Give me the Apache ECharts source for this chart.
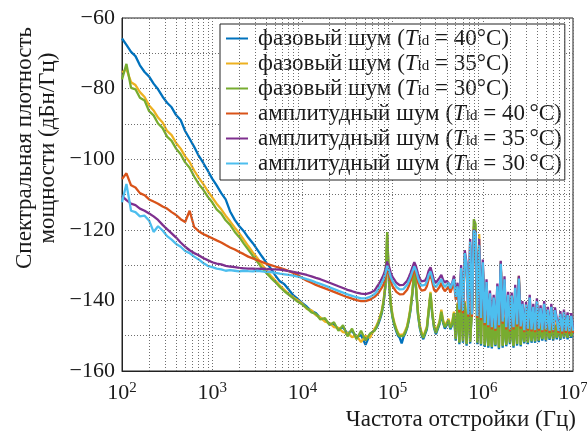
<!DOCTYPE html>
<html>
<head>
<meta charset="utf-8">
<script src="https://cdn.jsdelivr.net/npm/echarts@6/dist/echarts.min.js"></script>
<style>
html,body{margin:0;padding:0;background:#fff;}
#chart{width:587px;height:432px;}
</style>
</head>
<body>
<div id="chart"></div>
<script>
// частота отстройки, Гц
var freq = [100,112,126,141,158,178,200,224,251,282,
	316,355,398,447,501,562,631,708,794,891,
	1000,1120,1260,1410,1580,1780,2000,2240,2510,2820,
	3160,3550,3980,4470,5010,5620,6310,7080,7940,8910,
	1e4,1.12e4,1.26e4,1.41e4,1.58e4,1.78e4,2e4,2.24e4,2.51e4,2.82e4,
	3.16e4,3.55e4,3.98e4,4.47e4,5.01e4,5.62e4,6.31e4,
	6.61e4,6.92e4,7.24e4,7.59e4,7.94e4,8.32e4,8.71e4,9.12e4,9.55e4,1e5,
	1.05e5,1.10e5,1.15e5,1.20e5,1.26e5,1.32e5,1.38e5,1.45e5,1.51e5,1.58e5,
	1.66e5,1.74e5,1.82e5,1.91e5,2.00e5,2.09e5,2.19e5,2.29e5,2.40e5,2.51e5,
	2.63e5,2.75e5,2.88e5,3.02e5,3.16e5,3.31e5,3.47e5,3.63e5,3.80e5,3.98e5,
	4.17e5,4.37e5,4.57e5,4.79e5,5.01e5,5.25e5,5.50e5,5.75e5,6.03e5,6.31e5,
	6.61e5,6.92e5,7.24e5,7.59e5,7.94e5,8.32e5,8.71e5,9.12e5,9.55e5,1e6,
	1.05e6,1.10e6,1.15e6,1.20e6,1.26e6,1.32e6,1.38e6,1.45e6,1.51e6,1.58e6,
	1.66e6,1.74e6,1.82e6,1.91e6,2.00e6,2.09e6,2.19e6,2.29e6,2.40e6,2.51e6,
	2.63e6,2.75e6,2.88e6,3.02e6,3.16e6,3.31e6,3.47e6,3.63e6,3.80e6,3.98e6,
	4.17e6,4.37e6,4.57e6,4.79e6,5.01e6,5.25e6,5.50e6,5.75e6,6.03e6,6.31e6,
	6.61e6,6.92e6,7.24e6,7.59e6,7.94e6,8.32e6,8.71e6,9.12e6,9.55e6,1e7];

// фазовый шум, 40°C
var phase40 = [-65.8,-67.6,-69.6,-70.8,-73.4,-75.3,-76.6,-78.6,-80.2,-82.3,
	-84.0,-85.3,-87.5,-88.9,-92.0,-94.2,-96.5,-99.0,-101.0,-103.2,
	-105.5,-107.4,-109.6,-111.4,-114.8,-117.2,-119.0,-120.4,-122.2,-123.8,
	-125.6,-127.5,-129.3,-131.0,-132.9,-134.6,-135.4,-137.0,-138.6,-139.6,
	-140.8,-141.8,-143.0,-143.6,-145.0,-145.6,-146.6,-146.8,-148.2,-147.6,
	-149.4,-148.6,-150.4,-149.8,-152.6,-149.6,-148.4,
	-147.8,-146.8,-145.4,-143.6,-140.8,-136.2,-121.6,-135.0,-141.6,-145.0,
	-147.2,-148.8,-150.0,-150.6,-152.2,-150.4,-149.4,-147.8,-145.8,-142.8,
	-138.0,-131.6,-136.8,-144.0,-147.8,-149.8,-151.0,-150.6,-148.2,-143.4,
	-138.4,-144.0,-147.8,-149.6,-149.2,-146.8,-143.8,-146.4,-148.0,-147.6,
	-146.0,-148.2,-147.0,-144.0,-151.4,-141.4,-152.4,-140.0,-152.0,-141.0,
	-152.8,-139.4,-152.2,-142.4,-120.0,-121.0,-152.4,-140.6,-152.8,-131.6,
	-153.2,-144.8,-153.4,-146.0,-153.6,-146.2,-153.0,-144.4,-153.8,-130.0,
	-153.4,-145.4,-153.0,-146.8,-152.4,-146.4,-153.4,-145.0,-152.8,-134.2,
	-153.0,-147.0,-152.2,-146.4,-152.4,-146.0,-152.0,-147.2,-152.0,-146.4,
	-151.8,-147.2,-151.4,-146.6,-151.6,-147.4,-151.2,-147.0,-151.4,-147.4,
	-151.0,-147.6,-151.2,-147.4,-150.8,-147.8,-151.0,-147.6,-150.6,-148.0];

// фазовый шум, 35°C
var phase35 = [-75.4,-74.5,-78.2,-79.0,-81.0,-82.4,-84.8,-86.2,-88.2,-89.6,
	-92.0,-93.2,-95.4,-97.0,-99.2,-100.8,-103.2,-105.2,-107.0,-109.0,
	-110.8,-112.6,-114.2,-116.0,-117.6,-119.4,-121.0,-122.8,-124.6,-126.4,
	-128.0,-129.8,-131.4,-133.0,-134.4,-135.8,-137.0,-138.2,-139.2,-140.0,
	-141.0,-142.4,-142.8,-144.2,-144.8,-146.0,-146.4,-147.6,-147.8,-149.0,
	-149.2,-150.4,-150.0,-151.8,-150.0,-150.6,-148.0,
	-147.2,-146.0,-144.6,-142.8,-140.0,-135.4,-121.0,-134.2,-140.8,-144.2,
	-146.4,-148.0,-149.2,-149.8,-150.0,-149.6,-148.6,-147.2,-145.0,-142.0,
	-137.2,-130.8,-136.0,-143.2,-147.0,-149.0,-150.2,-149.8,-147.4,-142.6,
	-137.6,-143.2,-147.0,-148.8,-148.4,-146.0,-142.6,-145.6,-147.2,-146.8,
	-145.2,-147.4,-146.2,-143.2,-150.6,-140.6,-151.6,-139.2,-151.2,-140.2,
	-152.0,-138.6,-151.4,-141.6,-119.0,-120.0,-151.6,-121.2,-152.0,-130.6,
	-152.4,-144.0,-152.6,-145.2,-152.8,-145.4,-152.2,-143.6,-153.0,-129.6,
	-152.6,-144.6,-152.2,-146.0,-151.6,-145.6,-152.6,-144.2,-152.0,-133.0,
	-152.2,-146.2,-151.4,-145.6,-151.6,-145.2,-151.2,-146.4,-151.2,-145.6,
	-151.0,-146.4,-150.6,-145.8,-150.8,-146.6,-150.4,-146.2,-150.6,-146.6,
	-150.2,-146.8,-150.4,-146.6,-150.0,-147.0,-150.2,-146.8,-149.8,-147.2];

// фазовый шум, 30°C
var phase30 = [-77.4,-73.0,-79.8,-80.2,-82.6,-83.4,-86.4,-87.6,-89.9,-91.2,
	-93.6,-94.8,-97.0,-98.6,-100.9,-102.4,-104.9,-107.0,-108.6,-110.6,
	-112.2,-114.2,-115.4,-117.3,-118.6,-120.6,-122.1,-123.9,-125.6,-127.4,
	-129.0,-130.8,-132.2,-133.6,-134.8,-136.2,-137.4,-138.4,-139.4,-140.4,
	-141.2,-142.2,-143.4,-143.8,-145.4,-145.0,-147.0,-146.2,-148.6,-147.0,
	-150.2,-148.0,-151.0,-148.6,-151.4,-149.4,-148.6,
	-147.6,-146.4,-145.0,-143.2,-140.4,-135.8,-120.6,-134.6,-141.2,-144.6,
	-146.8,-148.4,-149.6,-150.2,-150.4,-150.0,-149.0,-147.6,-145.4,-142.4,
	-137.6,-131.0,-136.4,-143.6,-147.4,-149.4,-150.6,-150.2,-147.8,-143.0,
	-138.0,-143.6,-147.4,-149.2,-148.8,-146.4,-143.2,-146.0,-147.6,-147.2,
	-145.6,-147.8,-146.6,-143.6,-151.0,-141.0,-152.0,-139.6,-151.6,-140.6,
	-152.4,-139.0,-151.8,-142.0,-117.0,-118.4,-152.0,-140.0,-152.4,-131.0,
	-152.8,-144.4,-153.0,-145.6,-153.2,-145.8,-152.6,-144.0,-153.4,-129.0,
	-153.0,-145.0,-152.6,-146.4,-152.0,-146.0,-153.0,-144.6,-152.4,-133.4,
	-152.6,-146.6,-151.8,-146.0,-152.0,-145.6,-151.6,-146.8,-151.6,-146.0,
	-151.4,-146.8,-151.0,-146.2,-151.2,-147.0,-150.8,-146.6,-151.0,-147.0,
	-150.6,-147.2,-150.8,-147.0,-150.4,-147.4,-150.6,-147.2,-150.2,-147.6];

// амплитудный шум, 40°C
var ampl40 = [-105.6,-104.0,-107.4,-108.0,-109.6,-110.2,-111.4,-112.0,-112.6,-113.4,
	-114.0,-115.0,-115.8,-117.0,-117.8,-114.6,-119.2,-120.4,-121.2,-121.8,
	-122.4,-123.0,-123.6,-124.3,-125.0,-125.6,-126.3,-126.9,-127.6,-128.1,
	-128.6,-129.1,-129.6,-130.0,-130.4,-130.8,-131.2,-131.7,-132.2,-132.8,
	-133.7,-134.4,-135.0,-135.6,-136.1,-136.6,-137.1,-137.6,-138.1,-138.6,
	-139.1,-139.5,-139.9,-140.2,-140.2,-139.8,-139.0,
	-138.6,-138.0,-137.2,-136.4,-135.4,-133.6,-130.8,-132.6,-134.6,-136.0,
	-136.8,-137.6,-138.0,-138.3,-138.4,-138.2,-137.8,-137.0,-136.0,-134.6,
	-133.0,-131.0,-132.6,-134.8,-136.4,-137.2,-137.4,-137.0,-136.0,-134.0,
	-132.6,-134.8,-137.0,-137.6,-137.2,-136.2,-135.0,-136.6,-137.4,-136.8,
	-136.0,-137.8,-137.4,-135.0,-139.8,-137.0,-143.4,-131.6,-143.6,-127.4,
	-130.8,-144.6,-124.2,-144.6,-121.0,-121.6,-145.0,-125.2,-145.6,-130.0,
	-147.0,-135.4,-147.6,-138.8,-148.2,-139.8,-148.6,-136.8,-147.6,-130.2,
	-146.6,-134.8,-148.2,-139.0,-148.8,-139.4,-148.2,-137.0,-147.4,-134.4,
	-148.0,-141.6,-149.0,-141.8,-148.6,-139.8,-148.8,-142.4,-149.0,-140.8,
	-148.6,-142.8,-149.0,-141.6,-148.8,-143.2,-149.2,-142.4,-149.0,-143.4,
	-143.0,-149.2,-144.4,-149.4,-144.0,-149.2,-144.8,-149.4,-145.0,-149.2];

// амплитудный шум, 35°C
var ampl35 = [-110.4,-111.6,-112.6,-113.0,-114.0,-114.6,-115.4,-116.2,-117.2,-118.6,
	-119.8,-121.0,-122.2,-123.6,-124.8,-125.8,-126.6,-127.2,-128.0,-128.6,
	-129.2,-129.6,-129.8,-130.2,-130.4,-130.6,-130.8,-130.9,-131.0,-131.0,
	-131.1,-131.0,-131.1,-131.2,-131.2,-131.3,-131.5,-131.7,-131.9,-132.2,
	-132.5,-132.8,-133.2,-133.6,-134.0,-134.5,-135.0,-135.5,-136.0,-136.5,
	-137.0,-137.4,-137.8,-138.1,-138.2,-137.9,-137.2,
	-136.4,-135.6,-134.8,-133.8,-132.8,-131.2,-129.0,-130.4,-132.2,-133.4,
	-134.2,-135.0,-135.4,-135.7,-135.8,-135.6,-135.2,-134.4,-133.4,-132.2,
	-130.6,-129.2,-130.4,-132.4,-133.8,-134.6,-134.8,-134.4,-133.4,-131.6,
	-130.6,-132.4,-134.4,-135.0,-134.6,-133.6,-132.8,-134.2,-135.0,-134.4,
	-134.0,-135.8,-135.2,-133.0,-138.6,-135.0,-142.2,-130.0,-142.6,-125.8,
	-129.4,-143.6,-122.6,-143.6,-120.0,-120.6,-144.0,-122.6,-144.6,-128.4,
	-146.0,-134.0,-146.6,-137.2,-147.2,-138.4,-147.6,-135.2,-146.6,-128.8,
	-145.6,-133.2,-147.2,-137.6,-147.8,-137.8,-147.2,-135.6,-146.4,-133.0,
	-147.0,-140.2,-148.0,-140.4,-147.6,-138.4,-147.8,-141.0,-148.0,-139.4,
	-147.6,-141.4,-148.0,-140.2,-147.8,-141.8,-148.2,-141.0,-148.0,-142.0,
	-141.6,-148.2,-143.0,-148.4,-142.6,-148.2,-143.4,-148.4,-143.6,-148.2];

// амплитудный шум, 30°C
var ampl30 = [-112.2,-107.0,-114.6,-115.0,-116.2,-116.0,-117.4,-120.6,-119.0,-120.2,
	-121.8,-122.8,-124.0,-124.8,-126.0,-126.6,-127.6,-128.4,-129.4,-130.2,
	-130.6,-131.0,-131.2,-131.6,-131.4,-131.6,-131.8,-131.6,-131.7,-131.8,
	-131.6,-131.8,-131.9,-132.0,-132.2,-132.4,-132.6,-132.8,-133.0,-133.3,
	-133.6,-134.0,-134.4,-134.9,-135.3,-135.8,-136.3,-136.8,-137.3,-137.8,
	-138.3,-138.7,-139.1,-139.4,-139.4,-139.0,-138.2,
	-137.6,-136.8,-136.0,-135.0,-134.0,-132.4,-130.2,-131.6,-133.4,-134.6,
	-135.4,-136.2,-136.6,-136.9,-137.0,-136.8,-136.4,-135.6,-134.6,-133.4,
	-131.8,-130.4,-131.6,-133.6,-135.0,-135.8,-136.0,-135.6,-134.6,-132.8,
	-131.8,-133.6,-135.6,-136.2,-135.8,-134.8,-134.0,-135.4,-136.2,-135.6,
	-135.0,-136.6,-136.2,-134.0,-139.0,-136.0,-142.6,-130.8,-143.0,-126.6,
	-130.0,-144.0,-123.4,-144.0,-120.2,-121.0,-144.4,-124.4,-145.0,-129.2,
	-146.4,-134.8,-147.0,-138.0,-147.6,-139.2,-148.0,-136.0,-147.0,-129.6,
	-146.0,-134.0,-147.6,-138.4,-148.2,-138.6,-147.6,-136.4,-146.8,-133.8,
	-147.4,-141.0,-148.4,-141.2,-148.0,-139.2,-148.2,-141.8,-148.4,-140.2,
	-148.0,-142.2,-148.4,-141.0,-148.2,-142.6,-148.6,-141.8,-148.4,-142.8,
	-142.4,-148.6,-143.8,-148.8,-143.4,-148.6,-144.2,-148.8,-144.4,-148.6];

var seriesNames = [
	'фазовый шум (T_ld = 40°C)',
	'фазовый шум (T_ld = 35°C)',
	'фазовый шум (T_ld = 30°C)',
	'амплитудный шум (T_ld = 40\u2009°C)',
	'амплитудный шум (T_ld = 35\u2009°C)',
	'амплитудный шум (T_ld = 30\u2009°C)'
];
var seriesValues = [phase40, phase35, phase30, ampl40, ampl35, ampl30];
var seriesColors = ['#0072BD', '#EDB120', '#77AC30', '#D95319', '#7E2F8E', '#4DBEEE'];

// промежуточные линии сетки по оси частот
var minorFreq = [200,300,400,500,600,700,800,900,
	2000,3000,4000,5000,6000,7000,8000,9000,
	2e4,3e4,4e4,5e4,6e4,7e4,8e4,9e4,
	2e5,3e5,4e5,5e5,6e5,7e5,8e5,9e5,
	2e6,3e6,4e6,5e6,6e6,7e6,8e6,9e6];

var FONT = 'Liberation Serif';
var TXT = '#1a1a1a';
var GRIDLINE = {type: [1, 2], color: '#6e6e6e', width: 1};

function toPairs(vals){
	var out = [];
	var n = Math.min(freq.length, vals.length);
	for (var i = 0; i < n; i++) {
		out.push([freq[i], vals[i]]);
	}
	return out;
}

var series = [];
// служебная серия: только вертикальные линии сетки
series.push({
	type: 'line',
	name: '_grid',
	data: [],
	silent: true,
	markLine: {
		silent: true,
		symbol: 'none',
		label: {show: false},
		lineStyle: GRIDLINE,
		emphasis: {disabled: true},
		data: minorFreq.map(function(f){ return {xAxis: f}; })
	}
});
for (var k = 0; k < seriesNames.length; k++) {
	series.push({
		type: 'line',
		name: seriesNames[k],
		data: toPairs(seriesValues[k]),
		symbol: 'none',
		showSymbol: false,
		silent: true,
		color: seriesColors[k],
		lineStyle: {width: 2.3, color: seriesColors[k]},
		emphasis: {disabled: true}
	});
}

var option = {
	animation: false,
	backgroundColor: '#fff',
	textStyle: {fontFamily: FONT},
	grid: {
		left: 122, right: 14, top: 18, bottom: 61,
		outerBoundsMode: 'none',
		show: true, borderColor: '#222', borderWidth: 1
	},
	legend: {
		data: seriesNames,
		orient: 'vertical',
		left: 220, top: 24,
		padding: [3, 3, 5, 6],
		backgroundColor: '#fff',
		borderColor: '#222',
		borderWidth: 1,
		borderRadius: 0,
		icon: 'rect',
		itemWidth: 22, itemHeight: 2, itemGap: 2,
		selectedMode: false,
		formatter: function(name){
			return name.replace('T_ld', '{i|T}{s|ld}');
		},
		textStyle: {
			fontFamily: FONT, fontSize: 23, color: TXT, lineHeight: 20,
			padding: [0, 0, 0, 5],
			rich: {
				i: {fontFamily: FONT, fontSize: 23, fontStyle: 'italic', color: TXT, lineHeight: 20},
				s: {fontFamily: FONT, fontSize: 15, color: TXT, lineHeight: 20, verticalAlign: 'bottom', padding: [6, 0, 0, 0]}
			}
		}
	},
	xAxis: {
		type: 'log',
		logBase: 10,
		min: 100, max: 1e7,
		axisLine: {show: true, lineStyle: {color: '#222', width: 1}},
		axisTick: {show: false},
		splitLine: {show: true, lineStyle: GRIDLINE},
		axisLabel: {
			margin: 10,
			showMinLabel: true, showMaxLabel: true,
			formatter: function(v){
				var p = Math.round(Math.log(v) / Math.LN10);
				return '{b|10}{s|' + p + '}';
			},
			rich: {
				b: {fontFamily: FONT, fontSize: 22, color: TXT, lineHeight: 24},
				s: {fontFamily: FONT, fontSize: 15, color: TXT, lineHeight: 24, verticalAlign: 'top', padding: [0, 0, 8, 0]}
			}
		}
	},
	yAxis: {
		type: 'value',
		min: -160, max: -60, interval: 10,
		axisLine: {show: true, lineStyle: {color: '#222', width: 1}},
		axisTick: {show: false},
		splitLine: {show: true, lineStyle: GRIDLINE},
		axisLabel: {
			margin: 7,
			fontFamily: FONT, fontSize: 22, color: TXT,
			formatter: function(v){
				if (v % 20 !== 0) return '';
				return '\u2212' + Math.abs(v);
			}
		}
	},
	graphic: [
		{type: 'text', x: 25, y: 148, rotation: Math.PI / 2,
			style: {text: 'Спектральная плотность', fontFamily: FONT, fontSize: 23, fill: TXT, align: 'center', verticalAlign: 'middle'}},
		{type: 'text', x: 48, y: 148, rotation: Math.PI / 2,
			style: {text: 'мощности (дБн/Гц)', fontFamily: FONT, fontSize: 23, fill: TXT, align: 'center', verticalAlign: 'middle'}},
		{type: 'text', x: 576, y: 420,
			style: {text: 'Частота отстройки (Гц)', fontFamily: FONT, fontSize: 23, fill: TXT, align: 'right', verticalAlign: 'middle'}}
	],
	series: series
};

var myChart = echarts.init(document.getElementById('chart'), null, {renderer: 'canvas'});
myChart.setOption(option);
</script>
</body>
</html>
